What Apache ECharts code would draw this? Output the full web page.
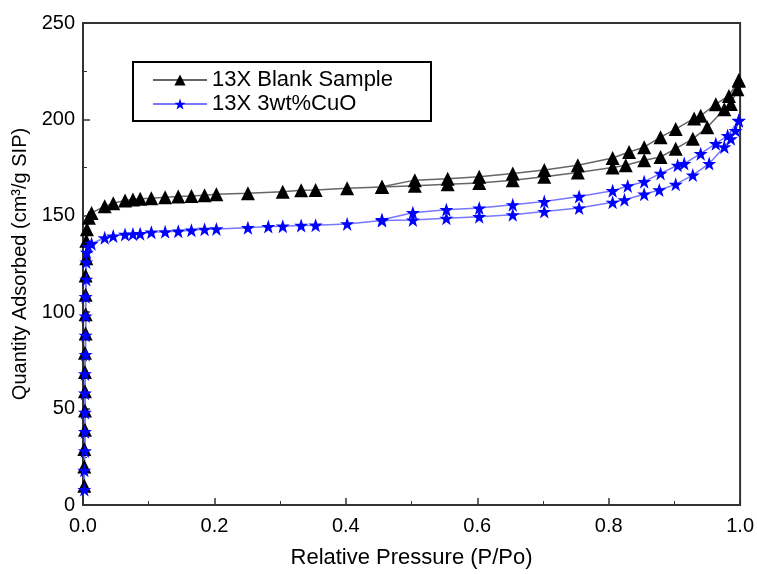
<!DOCTYPE html>
<html>
<head>
<meta charset="utf-8">
<script src="https://cdn.jsdelivr.net/npm/echarts@6/dist/echarts.min.js"></script>
<style>
  html, body { margin: 0; padding: 0; background: #fff; }
  #chart { width: 757px; height: 574px; }
</style>
</head>
<body>
<div id="chart"></div>
<script>
// 13X blank sample - adsorption branch
const blankAdsP = [0.002, 0.002, 0.002, 0.003, 0.003, 0.003, 0.003, 0.003, 0.004, 0.004, 0.004, 0.004, 0.005, 0.005, 0.006, 0.009,
    0.013, 0.033, 0.046, 0.064, 0.076, 0.087, 0.104, 0.125, 0.145, 0.165, 0.185, 0.203, 0.251, 0.304, 0.332, 0.354,
    0.402, 0.455, 0.505, 0.555, 0.603, 0.654, 0.702, 0.753, 0.806, 0.826, 0.854, 0.879, 0.902, 0.928, 0.950, 0.976, 0.986, 0.996, 0.998];
const blankAdsQ = [10, 20, 29, 39, 49, 59, 69, 79, 89, 99, 109, 119, 128, 137, 143, 149,
    151.5, 154.9, 156.5, 158, 158.5, 158.8, 159.1, 159.6, 160, 160.3, 160.7, 161.2, 161.7, 162.5, 163.2, 163.4,
    164.3, 165, 165.6, 166.3, 167, 168.5, 170.3, 172.5, 175, 176.2, 178.8, 180.5, 184.8, 189.9, 195.9, 205.3, 208, 215.6, 220];
// 13X blank sample - desorption branch
const blankDesP = [0.998, 0.983, 0.963, 0.940, 0.930, 0.902, 0.879, 0.854, 0.831, 0.806, 0.753, 0.702, 0.654, 0.603, 0.555, 0.505, 0.455];
const blankDesQ = [220.5, 212.2, 207.9, 201.9, 200.5, 195, 190.8, 185.6, 183.1, 180, 176.2, 173.8, 172, 170.3, 169.2, 168.5, 165.1];

// 13X 3wt%CuO - adsorption branch
const cuoAdsP = [0.002, 0.002, 0.003, 0.003, 0.003, 0.003, 0.003, 0.004, 0.004, 0.004, 0.004, 0.005, 0.005, 0.006, 0.008,
    0.013, 0.033, 0.046, 0.064, 0.076, 0.087, 0.104, 0.125, 0.145, 0.165, 0.185, 0.203, 0.251, 0.282, 0.304, 0.332, 0.354,
    0.402, 0.455, 0.502, 0.553, 0.603, 0.654, 0.702, 0.755, 0.806, 0.824, 0.854, 0.877, 0.902, 0.928, 0.953, 0.976, 0.986, 0.993, 0.998];
const cuoAdsQ = [8, 18, 28, 38, 48, 58, 68, 78, 88, 98, 108, 117, 126, 131, 134,
    135.5, 138.6, 139.5, 140.3, 140.5, 140.7, 141.5, 141.7, 142, 142.5, 143, 143.2, 143.8, 144.4, 144.6, 145, 145.1,
    145.8, 147.5, 147.8, 148.7, 149.5, 150.5, 152.2, 154, 157, 158.3, 161.2, 163.4, 166.3, 171.1, 177.1, 185.7, 189.9, 194.2, 199.3];
// 13X 3wt%CuO - desorption branch
const cuoDesP = [0.998, 0.981, 0.963, 0.940, 0.915, 0.905, 0.879, 0.854, 0.829, 0.806, 0.755, 0.702, 0.654, 0.603, 0.553, 0.502, 0.455];
const cuoDesQ = [199.5, 191.6, 187.4, 182.2, 177.1, 176.2, 172, 167.7, 165.5, 163, 160, 157.4, 155.7, 154, 153.2, 151.6, 148];

const xTicks = [0, 0.2, 0.4, 0.6, 0.8, 1.0];
const yTicks = [0, 50, 100, 150, 200, 250];

const zip = (xs, ys) => xs.map((x, i) => [x, ys[i]]);

const STAR = 'path://M0,-10L2.35,-3.09L9.51,-3.09L3.8,1.18L5.88,8.09L0,3.82L-5.88,8.09L-3.8,1.18L-9.51,-3.09L-2.35,-3.09Z';
const FONT = 'Liberation Sans, Arial, sans-serif';

function branch(name, data, lineColor, symbol, symColor, size) {
    return {
        name: name, type: 'line', data: data,
        symbol: symbol, symbolSize: size,
        lineStyle: { color: lineColor, width: 1.5 },
        itemStyle: { color: symColor },
        emphasis: { disabled: true },
        animation: false
    };
}

const chart = echarts.init(document.getElementById('chart'));
chart.setOption({
    backgroundColor: '#fff',
    textStyle: { fontFamily: FONT },
    grid: { left: 83, right: 16, top: 23, bottom: 64, show: true, borderColor: '#333', borderWidth: 2 },
    legend: {
        left: 133, top: 62, orient: 'vertical',
        data: ['13X Blank Sample', '13X 3wt%CuO'],
        borderColor: '#000', borderWidth: 2,
        padding: [7, 38, 6, 19], itemGap: 2,
        itemWidth: 54, itemHeight: 14,
        textStyle: { fontSize: 22, lineHeight: 20, color: '#000', fontFamily: FONT }
    },
    xAxis: {
        type: 'value', min: xTicks[0], max: xTicks[xTicks.length - 1], interval: 0.2,
        name: 'Relative Pressure (P/Po)', nameLocation: 'middle', nameGap: 42,
        nameTextStyle: { fontSize: 22, color: '#000' },
        axisLine: { lineStyle: { color: '#333', width: 2 } },
        axisTick: { inside: true, length: 7, lineStyle: { color: '#333', width: 1.5 } },
        minorTick: { show: true, splitNumber: 2, length: 4, lineStyle: { color: '#333' } },
        axisLabel: { fontSize: 20, color: '#000', margin: 11, formatter: v => v.toFixed(1) },
        splitLine: { show: false }
    },
    yAxis: {
        type: 'value', min: yTicks[0], max: yTicks[yTicks.length - 1], interval: 50,
        name: 'Quantity Adsorbed (cm³/g SIP)', nameLocation: 'middle', nameGap: 52, nameRotate: 90,
        nameTextStyle: { fontSize: 20, color: '#000' },
        axisLine: { lineStyle: { color: '#333', width: 2 } },
        axisTick: { inside: true, length: 7, lineStyle: { color: '#333', width: 1.5 } },
        minorTick: { show: true, splitNumber: 2, length: 4, lineStyle: { color: '#333' } },
        axisLabel: { fontSize: 20, color: '#000', margin: 8 },
        splitLine: { show: false }
    },
    series: [
        branch('13X Blank Sample', zip(blankAdsP, blankAdsQ), '#666', 'triangle', '#000', 14),
        branch('13X Blank Sample', zip(blankDesP, blankDesQ), '#666', 'triangle', '#000', 14),
        branch('13X 3wt%CuO', zip(cuoAdsP, cuoAdsQ), '#7777ff', STAR, '#0000ff', 14),
        branch('13X 3wt%CuO', zip(cuoDesP, cuoDesQ), '#7777ff', STAR, '#0000ff', 14)
    ]
});
</script>
</body>
</html>
